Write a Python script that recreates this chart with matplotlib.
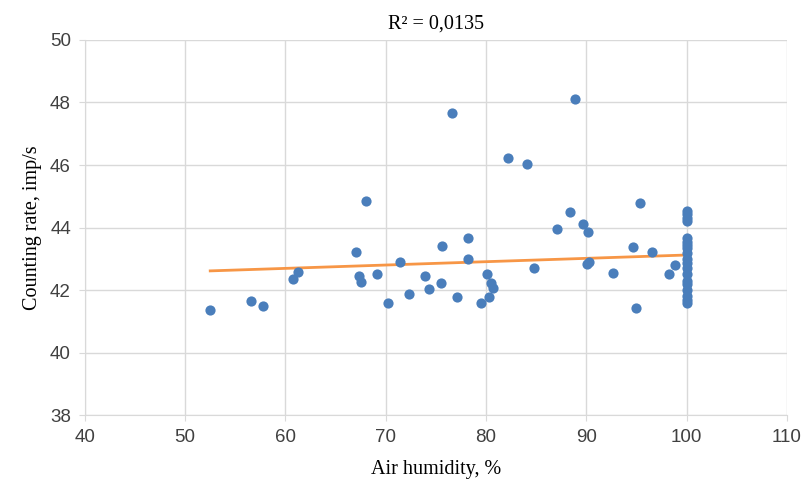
import matplotlib.pyplot as plt
import numpy as np

# Air humidity, % / counting rate, imp/s
humidity = [52.5, 56.6, 57.8, 60.8, 61.3, 67.0, 68.0, 67.3, 67.5, 69.1,
            70.2, 71.4, 72.3, 73.9, 74.3, 75.5, 75.6, 76.6, 77.1, 78.2,
            78.2, 79.5, 80.1, 80.3, 80.5, 80.7, 82.2, 84.1, 84.8, 87.1,
            88.4, 88.9, 89.7, 90.2, 90.1, 90.3, 92.7, 94.6, 94.9, 95.3,
            96.5, 98.2, 98.8,
            100, 100, 100, 100, 100, 100, 100, 100, 100, 100,
            100, 100, 100, 100, 100, 100, 100, 100, 100]
rate = [41.36, 41.65, 41.49, 42.36, 42.58, 43.22, 44.85, 42.45, 42.26, 42.51,
        41.58, 42.90, 41.87, 42.45, 42.03, 42.22, 43.41, 47.66, 41.78, 43.66,
        42.99, 41.58, 42.50, 41.78, 42.22, 42.06, 46.22, 46.03, 42.70, 43.95,
        44.50, 48.11, 44.11, 43.85, 42.83, 42.90, 42.54, 43.38, 41.42, 44.78,
        43.22, 42.51, 42.80,
        44.52, 44.42, 44.32, 44.22, 43.65, 43.55, 43.45, 43.35, 43.20, 43.00,
        42.88, 42.70, 42.50, 42.30, 42.18, 42.00, 41.80, 41.68, 41.60]

# linear trendline as shown in the chart (y = slope*x + intercept)
trend_slope = 0.0107
trend_intercept = 42.05
r2_text = 'R² = 0,0135'

x = np.array(humidity)
y = np.array(rate)
xs = np.array([x.min(), x.max()])

fig = plt.figure(figsize=(8.08, 4.95), dpi=100)
ax = fig.add_axes([0.105, 0.1616, 0.869, 0.7576])

ax.scatter(x, y, s=54, color='#4a7ebb', zorder=3, linewidths=0)
ax.plot(xs, trend_slope * xs + trend_intercept, color='#f79646', lw=2, zorder=2)

ax.set_xlim(40, 110)
ax.set_ylim(38, 50)
ax.set_xticks(np.arange(40, 111, 10))
ax.set_yticks(np.arange(38, 51, 2))
ax.grid(True, color='#d9d9d9', lw=1)
ax.set_axisbelow(True)
for s in ['top', 'right']:
    ax.spines[s].set_visible(False)
for s in ['left', 'bottom']:
    ax.spines[s].set_color('#d9d9d9')
ax.tick_params(length=4, color='#d9d9d9', labelsize=13.5, pad=6)
for lab in ax.get_xticklabels() + ax.get_yticklabels():
    lab.set_family(['Liberation Sans Narrow', 'Liberation Sans'])
    lab.set_color('#404040')

ax.set_title(r2_text, family='Liberation Serif', fontsize=14.5, pad=8)
ax.set_xlabel('Air humidity, %', family='Liberation Serif', fontsize=14.5, labelpad=10)
ax.set_ylabel('Counting rate, imp/s', family='Liberation Serif', fontsize=14.5, labelpad=6)

fig.savefig('out.png', dpi=100)
